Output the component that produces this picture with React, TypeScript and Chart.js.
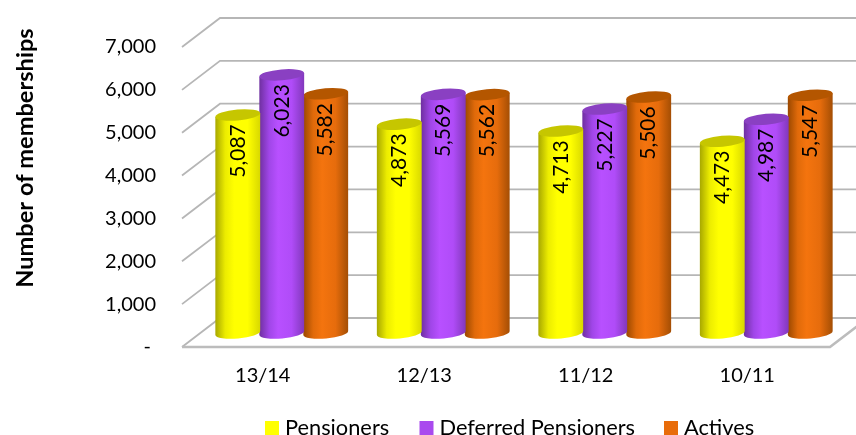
import React, { useEffect, useRef } from "react";
import { Chart, registerables } from "chart.js";

Chart.register(...registerables);

const categories = ["13/14", "12/13", "11/12", "10/11"];
const pensioners = [5087, 4873, 4713, 4473];
const deferredPensioners = [6023, 5569, 5227, 4987];
const actives = [5582, 5562, 5506, 5547];
const seriesNames = ["Pensioners", "Deferred Pensioners", "Actives"];
const legendColors = ["#ffff00", "#a94aee", "#e86c0a"];
const legendBoxX = [265, 419.5, 664];
const legendTextX = [285, 439.5, 684];
const bodyStops = [
  ["#a8a800", "#ecec00", "#ffff00", "#ffff00", "#d8d800"],
  ["#6f30a0", "#a046e8", "#b850ff", "#b04cf8", "#8238bc"],
  ["#9a4800", "#e06a0a", "#f4740e", "#e66c0c", "#a44e04"],
];
const capColors = ["#c6c600", "#8a40c2", "#b45600"];
const axisTitle = "Number of memberships";
const FONT = "Lato";

const DEPTH_X = 38;
const DEPTH_Y = 29;
const BAR_DX = 19;
const BAR_DY = 14;
const RY = 5.5;
const TILT = -0.085;

const wallsPlugin = {
  id: "walls",
  beforeDatasetsDraw(chart: any) {
    const { ctx, scales, chartArea } = chart;
    const y = scales.y;
    const left = chartArea.left;
    const right = chartArea.right + 2;
    ctx.save();
    ctx.lineJoin = "miter";
    y.ticks.forEach((t: any) => {
      const py = y.getPixelForValue(t.value);
      ctx.beginPath();
      ctx.strokeStyle = "#b6b6b6";
      ctx.lineWidth = 1.8;
      ctx.moveTo(left, py);
      ctx.lineTo(left + DEPTH_X, py - DEPTH_Y);
      ctx.lineTo(chart.width + 2, py - DEPTH_Y);
      ctx.stroke();
    });
    const b = y.getPixelForValue(0);
    ctx.beginPath();
    ctx.strokeStyle = "#bcbcbc";
    ctx.lineWidth = 2.6;
    ctx.moveTo(left, b);
    ctx.lineTo(right, b);
    ctx.lineTo(right + DEPTH_X, b - DEPTH_Y);
    ctx.stroke();
    ctx.restore();
  },
  beforeDatasetDraw(chart: any, args: any) {
    const { ctx } = chart;
    const meta = args.meta;
    const idx = args.index;
    const stops = bodyStops[idx];
    meta.data.forEach((bar: any, i: number) => {
      const cx = bar.x + BAR_DX;
      const topY = bar.y - BAR_DY;
      const baseY = bar.base - BAR_DY;
      const rx = bar.width / 2 + 0.5;
      const ex = rx * Math.cos(TILT);
      const ey = rx * Math.sin(TILT);
      const g = ctx.createLinearGradient(cx - ex, 0, cx + ex, 0);
      [0, 0.22, 0.42, 0.72, 1].forEach((p, k) => g.addColorStop(p, stops[k]));
      ctx.save();
      ctx.beginPath();
      ctx.moveTo(cx + ex, topY + ey);
      ctx.lineTo(cx + ex, baseY + ey);
      ctx.ellipse(cx, baseY, rx, RY, TILT, 0, Math.PI, false);
      ctx.lineTo(cx - ex, topY - ey);
      ctx.closePath();
      ctx.fillStyle = g;
      ctx.fill();
      ctx.beginPath();
      ctx.ellipse(cx, topY, rx, RY, TILT, 0, Math.PI * 2);
      ctx.fillStyle = capColors[idx];
      ctx.fill();
      ctx.translate(cx, topY + 36);
      ctx.rotate(-Math.PI / 2);
      ctx.fillStyle = "#000";
      ctx.font = `21px ${FONT}`;
      ctx.textAlign = "center";
      ctx.textBaseline = "middle";
      const v = chart.data.datasets[idx].data[i];
      ctx.fillText(v.toLocaleString("en-US"), 0, 0);
      ctx.restore();
    });
    return false;
  },
  afterDraw(chart: any) {
    const { ctx } = chart;
    ctx.save();
    ctx.translate(33, 158);
    ctx.rotate(-Math.PI / 2);
    ctx.fillStyle = "#000";
    ctx.font = `bold 23.6px ${FONT}`;
    ctx.textAlign = "center";
    ctx.textBaseline = "alphabetic";
    ctx.fillText(axisTitle, 0, 0);
    ctx.restore();

    ctx.save();
    ctx.font = `21.8px ${FONT}`;
    ctx.textAlign = "left";
    ctx.textBaseline = "alphabetic";
    chart.data.datasets.forEach((d: any, i: number) => {
      ctx.fillStyle = d.backgroundColor;
      ctx.fillRect(legendBoxX[i], 421, 14, 14);
      ctx.fillStyle = "#000";
      ctx.fillText(d.label, legendTextX[i], 435);
    });
    ctx.restore();
  },
};

export default function App() {
  const ref = useRef<HTMLCanvasElement | null>(null);
  useEffect(() => {
    if (!ref.current) return;
    const values = [pensioners, deferredPensioners, actives];
    const chart = new Chart(ref.current, {
      type: "bar",
      data: {
        labels: categories,
        datasets: values.map((data, i) => ({
          label: seriesNames[i],
          data,
          backgroundColor: legendColors[i],
          borderWidth: 0,
          categoryPercentage: 0.817,
          barPercentage: 1,
        })),
      },
      options: {
        responsive: false,
        animation: false,
        layout: { padding: { top: 47, right: 28, left: 0, bottom: 0 } },
        scales: {
          x: {
            grid: { display: false },
            border: { display: false },
            ticks: {
              color: "#000",
              padding: 9,
              maxRotation: 0,
              font: { family: FONT, size: 20 },
            },
            afterFit: (s: any) => {
              s.height = 88;
            },
          },
          y: {
            min: 0,
            max: 7000,
            grid: { display: false },
            border: { display: false },
            ticks: {
              stepSize: 1000,
              color: "#000",
              padding: 18,
              font: { family: FONT, size: 20 },
              callback: (v: any) => (v === 0 ? "- " : Number(v).toLocaleString("en-US")),
            },
            afterFit: (s: any) => {
              s.width = 182;
            },
          },
        },
        plugins: {
          tooltip: { enabled: false },
          legend: { display: false },
        },
      },
      plugins: [wallsPlugin],
    } as any);
    return () => chart.destroy();
  }, []);
  return (
    <canvas
      ref={ref}
      width={856}
      height={435}
      style={{ position: "fixed", left: 0, top: 0, display: "block" }}
    />
  );
}
